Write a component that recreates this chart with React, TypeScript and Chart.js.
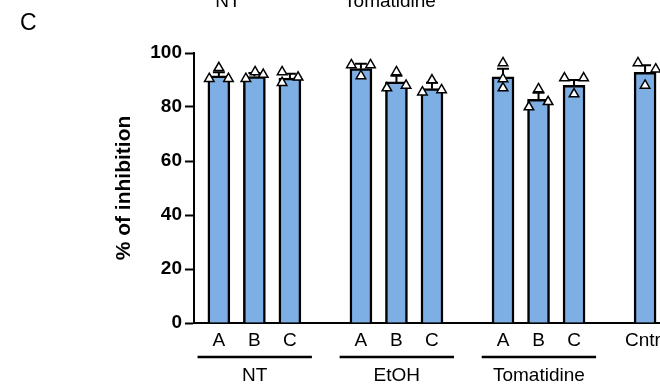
import React, { useEffect, useRef } from "react";
import { Chart, registerables } from "chart.js";

Chart.register(...registerables);

const FONT = '"Liberation Sans", Arial, Helvetica, sans-serif';

// x categories (empty strings are gaps between groups)
const categories = ["A", "B", "C", "", "A", "B", "C", "", "A", "B", "C", "", "Cntrl"];
// bar means (% of inhibition)
const means = [91.5, 91.3, 90.7, null, 94.2, 89.3, 86.8, null, 91.2, 82.8, 88.0, null, 92.8];
// standard deviations (upper error bar)
const sds = [1.4, 1.3, 1.6, null, 1.8, 2.3, 2.2, null, 3.0, 2.5, 2.0, null, 2.7];
// individual replicates
const replicates: (number[] | null)[] = [
  [90.5, 94.5, 90.5],
  [90.5, 93.0, 92.0],
  [93.0, 89.0, 91.0],
  null,
  [95.6, 91.5, 95.6],
  [87.0, 93.0, 88.0],
  [85.5, 90.0, 86.3],
  null,
  [96.3, 90.4, 87.0],
  [80.0, 86.7, 81.9],
  [90.7, 84.8, 90.7],
  null,
  [96.3, 88.0, 94.0],
];
// horizontal jitter of replicates (in category units)
const jitter: (number[] | null)[] = [
  [-0.27, 0, 0.27],
  [-0.24, 0.02, 0.25],
  [-0.22, -0.22, 0.23],
  null,
  [-0.27, 0, 0.27],
  [-0.27, 0, 0.27],
  [-0.27, 0, 0.27],
  null,
  [0, 0, 0],
  [-0.27, 0, 0.27],
  [-0.27, 0, 0.27],
  null,
  [-0.2, 0, 0.3],
];
// treatment groups and the categories they span
const groups = ["NT", "EtOH", "Tomatidine"];
const groupMembers = [
  [0, 2],
  [4, 6],
  [8, 10],
];
// cut-off headers from the panel above
const topHeaders = ["NT", "Tomatidine"];
const yTicks = { min: 0, max: 100, step: 20 };

const BAR = "rgb(125,175,229)";

export default function App() {
  const ref = useRef<HTMLCanvasElement | null>(null);

  useEffect(() => {
    if (!ref.current) return;
    const barData = means
      .map((m, i) => (m == null ? null : { x: i, y: m }))
      .filter((d) => d !== null);
    const pts: { x: number; y: number }[] = [];
    replicates.forEach((r, i) => {
      if (!r) return;
      r.forEach((v, k) => pts.push({ x: i + (jitter[i] as number[])[k], y: v }));
    });

    const decor = {
      id: "decor",
      afterDatasetDraw(chart: any, args: any) {
        if (args.index !== 0) return;
        const ctx = chart.ctx;
        const xs = chart.scales.x;
        const ys = chart.scales.y;
        ctx.save();
        ctx.strokeStyle = "#000";
        ctx.lineWidth = 2;
        means.forEach((m, i) => {
          if (m == null || sds[i] == null) return;
          const x = xs.getPixelForValue(i);
          const y0 = ys.getPixelForValue(m);
          const y1 = ys.getPixelForValue(m + (sds[i] as number));
          ctx.beginPath();
          ctx.moveTo(x, y0);
          ctx.lineTo(x, y1);
          ctx.moveTo(x - 6, y1);
          ctx.lineTo(x + 6, y1);
          ctx.stroke();
        });
        ctx.restore();
      },
      afterDraw(chart: any) {
        const ctx = chart.ctx;
        const xs = chart.scales.x;
        const ys = chart.scales.y;
        ctx.save();
        ctx.fillStyle = "#000";
        ctx.strokeStyle = "#000";
        // panel letter
        ctx.font = `23px ${FONT}`;
        ctx.textAlign = "left";
        ctx.textBaseline = "alphabetic";
        ctx.fillText("C", 20, 30);
        // cut-off headers
        ctx.font = `19px ${FONT}`;
        ctx.textAlign = "center";
        ctx.fillText(topHeaders[0], 228, 7);
        ctx.fillText(topHeaders[1], 390, 7);
        // y title
        ctx.save();
        ctx.translate(124, (ys.top + ys.bottom) / 2);
        ctx.rotate(-Math.PI / 2);
        ctx.font = `bold 21px ${FONT}`;
        ctx.textAlign = "center";
        ctx.textBaseline = "middle";
        ctx.fillText("% of inhibition", 0, 0);
        ctx.restore();
        // group lines and labels
        ctx.lineWidth = 2.5;
        groups.forEach((g, gi) => {
          const [a, b] = groupMembers[gi];
          const x0 = xs.getPixelForValue(a - 0.6);
          const x1 = xs.getPixelForValue(b + 0.62);
          ctx.beginPath();
          ctx.moveTo(x0, 357);
          ctx.lineTo(x1, 357);
          ctx.stroke();
          ctx.font = `19px ${FONT}`;
          ctx.textAlign = "center";
          ctx.textBaseline = "middle";
          ctx.fillText(g, (x0 + x1) / 2, 376);
        });
        ctx.restore();
      },
    };

    const chart = new Chart(ref.current, {
      type: "bar",
      data: {
        datasets: [
          {
            type: "bar",
            data: barData as any,
            backgroundColor: BAR,
            borderColor: "#000",
            borderWidth: 2.5,
            barThickness: 22,
            order: 2,
          } as any,
          {
            type: "scatter",
            data: pts,
            pointStyle: "triangle",
            pointRadius: 5.5,
            backgroundColor: "#fff",
            borderColor: "#000",
            borderWidth: 1.5,
            order: 1,
            clip: false,
          } as any,
        ],
      },
      options: {
        responsive: false,
        animation: false,
        devicePixelRatio: 1,
        layout: { padding: { top: 53, left: 0, right: 0, bottom: 0 } },
        plugins: { legend: { display: false }, tooltip: { enabled: false } },
        scales: {
          x: {
            type: "linear",
            offset: false,
            min: -0.7,
            max: 12.42,
            grid: { display: false, drawTicks: false },
            border: { display: true, color: "#000", width: 2 },
            ticks: {
              autoSkip: false,
              maxRotation: 0,
              padding: 6,
              color: "#000",
              font: { family: FONT, size: 19 },
              callback: (v: any) => categories[v as number] ?? "",
            },
            afterBuildTicks: (s: any) => {
              s.ticks = categories
                .map((c, i) => ({ value: i, c }))
                .filter((t) => t.c !== "")
                .map((t) => ({ value: t.value }));
            },
            afterFit: (s: any) => {
              s.height = 62;
              s.paddingLeft = 0;
              s.paddingRight = 0;
            },
          } as any,
          y: {
            min: yTicks.min,
            max: yTicks.max,
            ticks: {
              stepSize: yTicks.step,
              padding: 3,
              color: "#000",
              font: { family: FONT, size: 19, weight: "bold" },
            },
            grid: {
              drawOnChartArea: false,
              color: "#000",
              tickColor: "#000",
              tickWidth: 2,
              tickLength: 9,
            },
            border: { color: "#000", width: 2 },
            afterFit: (s: any) => {
              s.width = 194;
              s.paddingTop = 0;
              s.paddingBottom = 0;
            },
          } as any,
        },
      },
      plugins: [decor],
    });
    return () => chart.destroy();
  }, []);

  return (
    <div style={{ position: "fixed", left: 0, top: 0, width: 660, height: 385, overflow: "hidden", background: "#fff" }}>
      <canvas ref={ref} width={667} height={385} style={{ display: "block" }} />
    </div>
  );
}
